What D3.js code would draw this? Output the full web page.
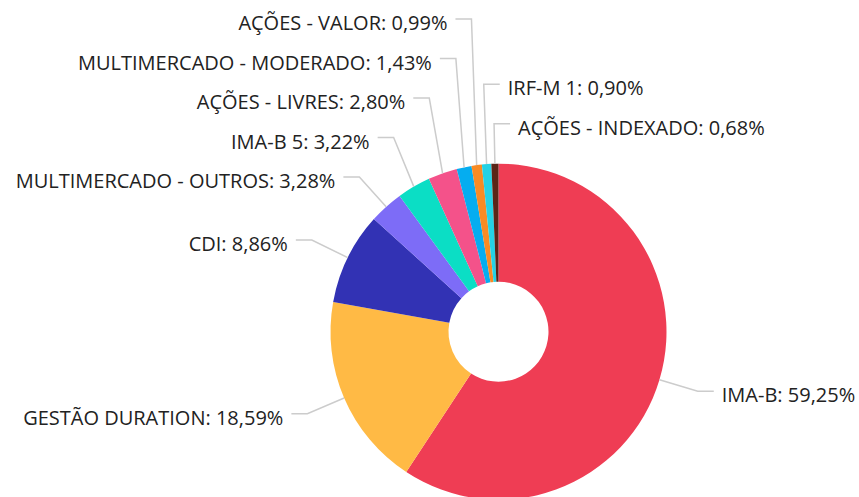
<!DOCTYPE html>
<html>
<head>
<meta charset="utf-8">
<script src="https://cdn.jsdelivr.net/npm/d3@7"></script>
<style>
  html, body { margin: 0; padding: 0; background: #fff; }
  svg { display: block; }
</style>
</head>
<body>
<script>
// slices, clockwise from 12 o'clock
const categories = [
    "IMA-B", "GESTÃO DURATION", "CDI", "MULTIMERCADO - OUTROS", "IMA-B 5",
    "AÇÕES - LIVRES", "MULTIMERCADO - MODERADO", "AÇÕES - VALOR", "IRF-M 1", "AÇÕES - INDEXADO"
];
const values = [59.25, 18.59, 8.86, 3.28, 3.22, 2.80, 1.43, 0.99, 0.90, 0.68];
const colors = [
    "#ef3d54", "#ffba45", "#3232b4", "#7d6cf7", "#0bdec5",
    "#f4528a", "#05adf0", "#f98b24", "#25d2e5", "#5b2518"
];

function main() {
    const canvasWidth = 859;
    const canvasHeight = 497;

    const cx = 498.5, cy = 331.7;
    const outerR = 168;
    const innerR = 50;
    const labelR = 208;      // where the leader line bends
    const hLine = 16;        // horizontal part of the leader
    const gap = 8;           // leader end to text
    const spacing = 39.5;    // min vertical distance between labels
    const rightSlack = 6;    // degrees left of 12 o'clock still labelled on the right

    const fmt = v => v.toFixed(2).replace(".", ",") + "%";

    const svg = d3.select("body").append("svg")
        .attr("width", canvasWidth)
        .attr("height", canvasHeight);

    const g = svg.append("g")
        .attr("transform", "translate(" + cx + "," + cy + ")");

    const data = categories.map((c, i) => ({ name: c, value: values[i], color: colors[i] }));

    const pie = d3.pie().sort(null).value(d => d.value);
    const arcs = pie(data);

    const arc = d3.arc().innerRadius(innerR).outerRadius(outerR);

    g.selectAll(".slice")
        .data(arcs)
        .join("path")
        .attr("class", "slice")
        .attr("d", arc)
        .attr("fill", d => d.data.color);

    // label layout
    const labels = arcs.map(d => {
        const mid = (d.startAngle + d.endAngle) / 2;
        let deg = mid * 180 / Math.PI;
        if (deg > 180) deg -= 360;
        return {
            d: d,
            deg: deg,
            right: deg > -rightSlack,
            sx: outerR * Math.sin(mid),
            sy: -outerR * Math.cos(mid),
            x: labelR * Math.sin(mid),
            y: -labelR * Math.cos(mid)
        };
    });

    const left = labels.filter(l => !l.right).sort((a, b) => b.deg - a.deg);
    const right = labels.filter(l => l.right).sort((a, b) => a.deg - b.deg);

    // push labels upward, working from the bottom of each side
    [left, right].forEach(side => {
        let prev = Infinity;
        for (let i = side.length - 1; i >= 0; i--) {
            side[i].y = Math.min(side[i].y, prev - spacing);
            prev = side[i].y;
        }
    });

    g.selectAll(".leader")
        .data(labels)
        .join("polyline")
        .attr("class", "leader")
        .attr("fill", "none")
        .attr("stroke", "#cccccc")
        .attr("stroke-width", 1.5)
        .attr("points", l => {
            const ex = l.x + (l.right ? hLine : -hLine);
            return [[l.sx, l.sy], [l.x, l.y], [ex, l.y]].map(p => p.join(",")).join(" ");
        });

    g.selectAll(".label")
        .data(labels)
        .join("text")
        .attr("class", "label")
        .attr("x", l => l.x + (l.right ? hLine + gap : -hLine - gap))
        .attr("y", l => l.y)
        .attr("dy", "0.55em")
        .attr("text-anchor", l => l.right ? "start" : "end")
        .attr("font-family", "'Open Sans', sans-serif")
        .attr("font-size", "20px")
        .attr("fill", "#222")
        .text(l => l.d.data.name + ": " + fmt(l.d.data.value));
}
main();
</script>
</body>
</html>
